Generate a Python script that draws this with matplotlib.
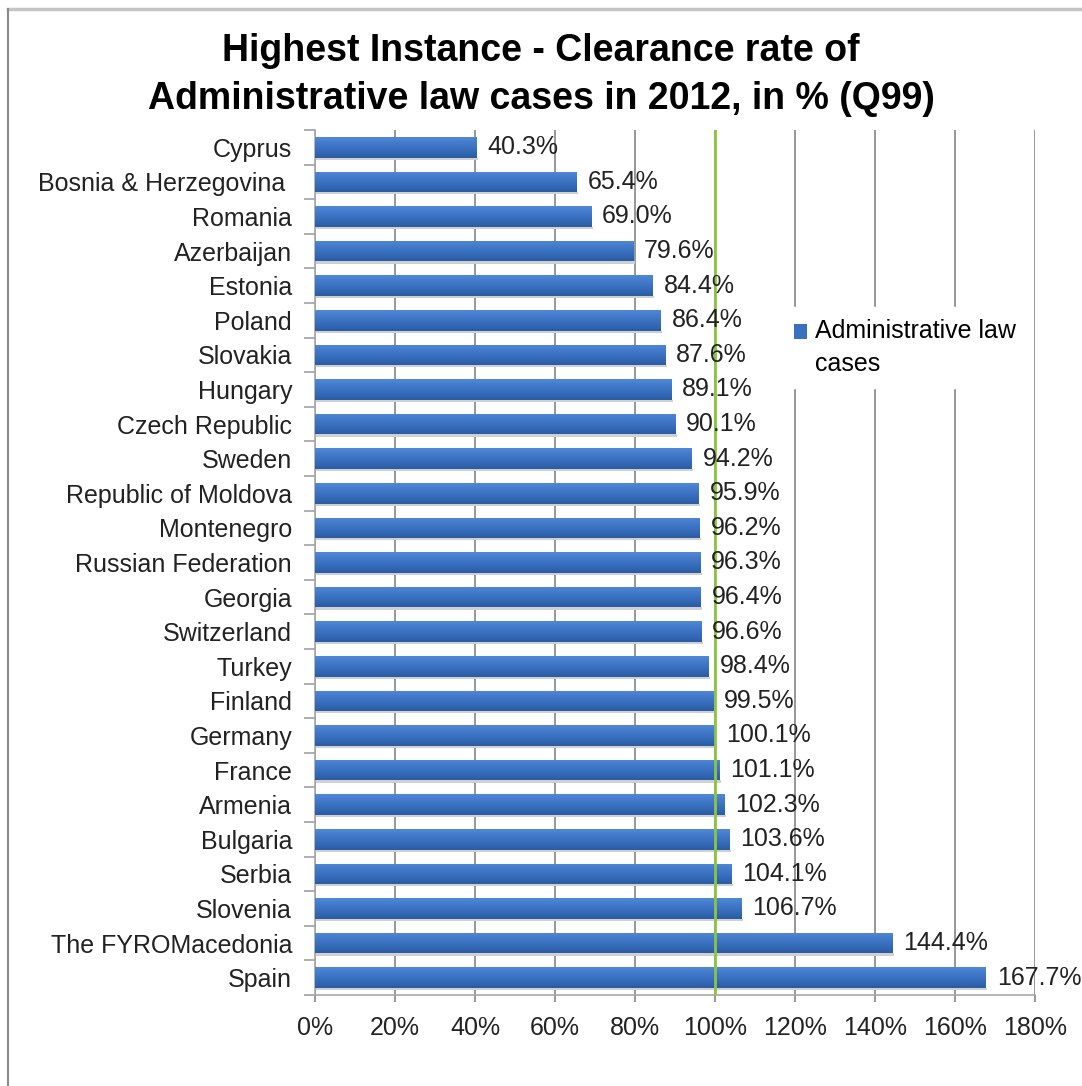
import numpy as np
import matplotlib.pyplot as plt
from matplotlib.patches import Rectangle
from matplotlib.colors import LinearSegmentedColormap
from matplotlib.ticker import FuncFormatter, FixedLocator

plt.rcParams['font.family'] = ['Liberation Sans', 'DejaVu Sans']

countries = ["Cyprus", "Bosnia & Herzegovina ", "Romania", "Azerbaijan", "Estonia",
             "Poland", "Slovakia", "Hungary", "Czech Republic", "Sweden",
             "Republic of Moldova", "Montenegro", "Russian Federation", "Georgia",
             "Switzerland", "Turkey", "Finland", "Germany", "France", "Armenia",
             "Bulgaria", "Serbia", "Slovenia", "The FYROMacedonia", "Spain"]
clearance = [40.3, 65.4, 69.0, 79.6, 84.4, 86.4, 87.6, 89.1, 90.1, 94.2,
             95.9, 96.2, 96.3, 96.4, 96.6, 98.4, 99.5, 100.1, 101.1, 102.3,
             103.6, 104.1, 106.7, 144.4, 167.7]
xticks = [0, 20, 40, 60, 80, 100, 120, 140, 160, 180]
series_name = "Administrative law\ncases"

fig = plt.figure(figsize=(10.82, 10.86), dpi=100)

# outer frame lines (top and left)
fig.add_artist(plt.Line2D([0.0075, 1.0], [0.9915, 0.9915], color="#c4c4c4", lw=2.5,
                          transform=fig.transFigure))
fig.add_artist(plt.Line2D([0.0075, 0.0075], [0.0, 0.9915], color="#8a8a8a", lw=1.5,
                          transform=fig.transFigure))

ax = fig.add_axes([0.2911, 0.0838, 0.6655, 0.7965])

y = np.arange(len(countries))
bars = ax.barh(y, clearance, height=0.6, color="#3a70c0", edgecolor="none", zorder=3,
               label=series_name)

# vertical shading on every bar: lighter top, darker bottom (y axis is inverted)
grad = np.linspace(1, 0, 64).reshape(-1, 1)
cmap = LinearSegmentedColormap.from_list("barshade", ["#4f88d6", "#3a72c2", "#2b5ca4"])
for b in bars:
    x0, y0 = b.get_x(), b.get_y()
    w, h = b.get_width(), b.get_height()
    im = ax.imshow(grad, cmap=cmap, aspect="auto", extent=(x0, x0 + w, y0, y0 + h),
                   origin="upper", zorder=4, interpolation="bilinear")
    im.set_clip_path(b)
    # soft shadow under the bar
    ax.add_patch(Rectangle((x0, y0 + h), w + 0.4, 0.06, color="#d0d0d0", zorder=2, lw=0))

for yi, v in zip(y, clearance):
    ax.text(v + 2.7, yi, f"{v:.1f}%", va="center", ha="left", fontsize=18,
            color="#222222", zorder=5)

ax.axvline(100, color="#8cc540", lw=2, zorder=4.5)

ax.set_xlim(0, 180)
ax.set_ylim(len(countries) - 0.5, -0.5)
ax.set_xticks(xticks)
ax.xaxis.set_major_formatter(FuncFormatter(lambda v, p: f"{v:.0f}%"))
ax.grid(axis="x", color="#7a7a7a", lw=1.1, zorder=1)
ax.set_axisbelow(True)

ax.set_yticks(y)
ax.set_yticklabels(countries)
ax.yaxis.set_minor_locator(FixedLocator(np.arange(-0.5, len(countries), 1)))
ax.tick_params(axis="y", which="major", length=0, pad=16.5, labelsize=18, labelcolor="#222222")
ax.tick_params(axis="y", which="minor", length=8, color="#a0a0a0", width=1.2)
ax.tick_params(axis="x", which="major", length=5, color="#7a7a7a", width=1.1,
               pad=10, labelsize=18, labelcolor="#222222")

for s in ["top", "right"]:
    ax.spines[s].set_visible(False)
ax.spines["left"].set_color("#a8a8a8")
ax.spines["left"].set_linewidth(1.2)
ax.spines["bottom"].set_color("#a8a8a8")
ax.spines["bottom"].set_linewidth(1.2)

leg = ax.legend(loc="upper left", bbox_to_anchor=(0.63, 0.81), frameon=True,
                fontsize=18, handlelength=0.55, handleheight=0.55, handletextpad=0.3,
                borderpad=0.5, labelspacing=0.2, fancybox=False)
leg.get_frame().set_facecolor("white")
leg.get_frame().set_edgecolor("white")
leg.get_frame().set_alpha(1)
leg.set_zorder(6)
for t in leg.get_texts():
    t.set_linespacing(1.45)
# keep the marker level with the first line of the label
for hnd in leg.legend_handles:
    hnd.set_y(hnd.get_y() + 12)

fig.text(0.5, 0.931, "Highest Instance - Clearance rate of\nAdministrative law cases in 2012, in % (Q99)",
         ha="center", va="center", fontsize=27, fontweight="bold", linespacing=1.4)

fig.savefig("out.png", dpi=100)
